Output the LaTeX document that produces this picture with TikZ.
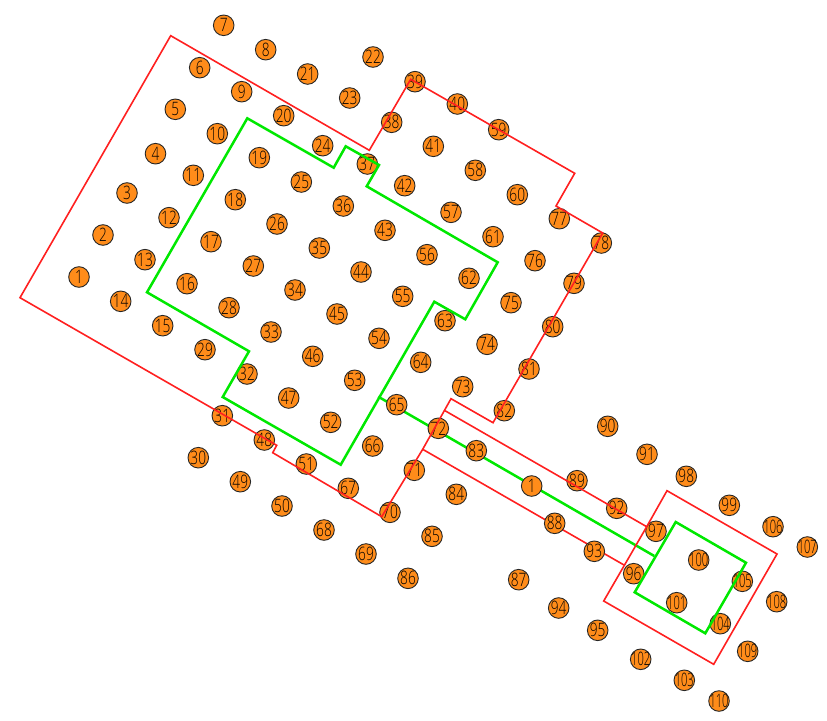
\documentclass[tikz,border=0pt]{standalone}
\usepackage{fontspec}
\setmainfont[FakeStretch=0.74,UprightFont=* Light]{Open Sans}
\newfontfamily\narrowdigits[FakeStretch=0.6,UprightFont=* Light]{Open Sans}
\definecolor{pad}{HTML}{FF8C1A}
\definecolor{rd}{HTML}{FF2020}
\definecolor{gr}{HTML}{00E800}
\tikzset{
  padnode/.style={circle,draw=black!85,fill=pad,line width=0.9pt,minimum size=20.6pt,inner sep=0pt,font=\fontsize{18.5}{18.5}\selectfont,text=black},
  padwide/.style={padnode,font=\narrowdigits\fontsize{18.5}{18.5}\selectfont},
  redline/.style={draw=rd,line width=1.6pt,line join=miter},
  greenline/.style={draw=gr,line width=2.5pt,line join=miter}
}
\begin{document}
\begin{tikzpicture}[x=1pt,y=-1pt]
\useasboundingbox (0,0) rectangle (827,720);
% lines that pass beneath the pads
\draw[greenline] (378.3,396.7) -- (654.3,556);
\draw[redline] (624,565) -- (422.7,449.3);
% pads
\foreach \name/\label/\px/\py in {
n1/1/79/277, n2/2/103/235, n3/3/127/193, n4/4/155.5/153.7, n5/5/175.3/109.3,
n6/6/199.7/67.7, n7/7/223.7/25.3, n8/8/265.7/49.7, n9/9/241.7/91.7, n10/10/217.3/133.7,
n11/11/193.3/175.3, n12/12/169/217.7, n13/13/145/259.7, n14/14/120.7/301.3, n15/15/162.7/325.7,
n16/16/187/283.7, n17/17/211/241.7, n18/18/235.3/199.7, n19/19/259.3/157.7, n20/20/283.7/115.7,
n21/21/307.7/74, n22/22/373/57, n23/23/349.7/98, n24/24/322.7/145.7, n25/25/301.3/182,
n26/26/277/224, n27/27/253.3/266, n28/28/229/307.7, n29/29/205/349.7, n30/30/198.3/457.7,
n31/31/222.3/415.7, n32/32/247/374, n33/33/271/332, n34/34/295/290, n35/35/319.3/248,
n36/36/343.3/206, n37/37/367.3/164, n38/38/391.7/122.3, n39/39/415/81.7, n40/40/457.3/104,
n41/41/433.3/146.3, n42/42/404.7/185.7, n43/43/385/230.3, n44/44/361/272, n45/45/337/314,
n46/46/312.7/356.3, n47/47/288.7/398, n48/48/264.3/440, n49/49/240.3/481.7, n50/50/282/506,
n51/51/306.3/464, n52/52/330.7/422.3, n53/53/354.7/380.3, n54/54/379/338.3, n55/55/402.7/296.3,
n56/56/427/254.7, n57/57/451/212.3, n58/58/475.3/170.3, n59/59/498.7/129.7, n60/60/517.3/194.7,
n61/61/493/236.7, n62/62/469/278.3, n63/63/445/320.7, n64/64/420.7/362.3, n65/65/396.7/404.7,
n66/66/372.7/446, n67/67/348.3/488.3, n68/68/324/530, n69/69/366/554, n70/70/390/512.3,
n71/71/414.3/470.3, n72/72/438.3/428.3, n73/73/462.7/386.7, n74/74/487/344.3, n75/75/511/302.7,
n76/76/535/260.7, n77/77/559.3/218.7, n78/78/601.3/243, n79/79/574/283.3, n80/80/552.7/326.7,
n81/81/529/369, n82/82/504.3/410.7, n83/83/476.3/450.7, n84/84/456.3/494.3, n85/85/432/536.3,
n86/86/408/578.3, n87/87/518.7/579.7, n88/88/554.7/523.3, n89/89/577/480.7, n90/90/607.7/426.3,
n91/91/647/454.3, n92/92/616.7/508.3, n93/93/594.3/551.3, n94/94/558.7/608, n95/95/597.7/630.3,
n96/96/633.7/573.7, n97/97/656/531.3, n98/98/686.3/476.3, n99/99/729.3/505.3,
extra/1/531.7/486} {
  \node[padnode] (\name) at (\px,\py) {\makebox[0pt][c]{\label}};
}
\foreach \name/\label/\px/\py in {
n100/100/698.7/560, n101/101/676.7/602.7, n102/102/640.7/659.3, n103/103/684.3/680.3,
n104/104/720.3/623.7, n105/105/742.3/581.3, n106/106/773/526.7, n107/107/807.3/547,
n108/108/776.7/601.7, n109/109/747.7/651.3, n110/110/719/701} {
  \node[padwide] (\name) at (\px,\py) {\makebox[0pt][c]{\label}};
}
% red outline
\draw[redline] (422.7,449.3) -- (381.7,516.7) -- (272.7,452.7) -- (276.7,445.3) -- (20,297.7)
  -- (170.7,35.7) -- (369.3,150.3) -- (410.7,79.3) -- (574.7,173.3) -- (556,206) -- (602.7,233)
  -- (493,422.7) -- (451,398.7) -- (422.7,449.3);
\draw[redline] (445,410.7) -- (646.7,526.7) -- (667,490.7) -- (777,554) -- (713.7,664.3)
  -- (603.7,601) -- (646.7,526.7);
% green outline
\draw[greenline] (247.3,118.3) -- (333.7,167.7) -- (345.7,146.3) -- (379,165) -- (366.7,186.3)
  -- (497.7,262.3) -- (465.3,319.3) -- (434.3,301.7) -- (340.7,464.7) -- (222.7,397)
  -- (249,351.3) -- (147,292.3) -- cycle;
\draw[greenline] (675.7,522) -- (746,562.7) -- (705.3,633.3) -- (634.7,592.3) -- cycle;
\end{tikzpicture}
\end{document}
